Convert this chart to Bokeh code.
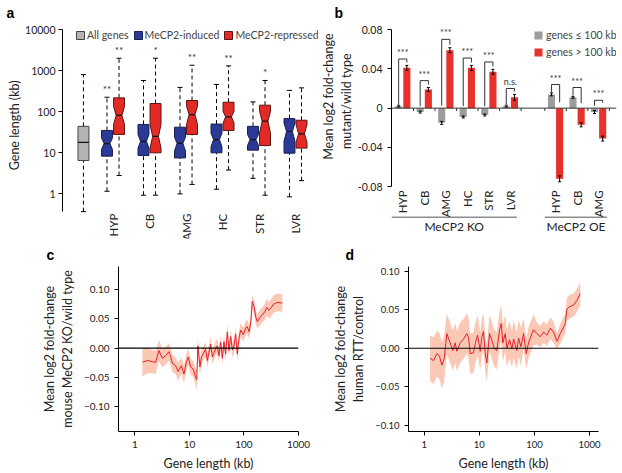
import numpy as np
from math import pi
from bokeh.plotting import figure
from bokeh.layouts import column, row
from bokeh.models import Range1d, FixedTicker, Legend, LegendItem, Span, Title
from bokeh.core.properties import value
from bokeh.embed import file_html
from bokeh.resources import INLINE

# ---------------- data ----------------
# Panel a: gene length (kb) box statistics
regions_a = ["HYP", "CB", "AMG", "HC", "STR", "LVR"]
all_lo, all_q1, all_med, all_q3, all_hi = 0.37, 6.5, 18, 44, 800
induced_lo = [1.16, 0.93, 1.0, 1.3, 2.4, 0.85]
induced_q1 = [8.3, 8.6, 7.5, 10, 11.6, 9.8]
induced_med = [16.8, 19, 17, 21, 21, 33]
induced_q3 = [35, 49, 42, 50, 44, 68]
induced_hi = [225, 575, 390, 460, 173, 330]
induced_nlo = [12, 13, 11, 14, 15, 19]
induced_nhi = [23, 28, 24, 30, 28, 53]
repressed_lo = [2.8, 0.93, 1.7, 3.8, 0.93, 2.1]
repressed_q1 = [28, 10, 28, 35, 15, 13]
repressed_med = [81, 25, 85, 75, 59, 29]
repressed_q3 = [217, 158, 187, 170, 144, 62]
repressed_hi = [2000, 2000, 1350, 1300, 575, 380]
repressed_nlo = [49, 13, 49, 53, 30, 18]
repressed_nhi = [135, 49, 135, 103, 103, 49]
stars_induced = ["**", "", "", "", "", ""]
stars_repressed = ["**", "*", "**", "**", "*", ""]

# Panel b: mean log2 fold-change
regions_ko = ["HYP", "CB", "AMG", "HC", "STR", "LVR"]
regions_oe = ["HYP", "CB", "AMG"]
short_ko = [0.002, -0.004, -0.015, -0.009, -0.007, 0.002]
long_ko = [0.041, 0.019, 0.059, 0.041, 0.037, 0.011]
short_oe = [0.014, 0.011, -0.004]
long_oe = [-0.072, -0.017, -0.031]
short_err_ko = [0.001, 0.001, 0.0015, 0.001, 0.001, 0.001]
long_err_ko = [0.0025, 0.002, 0.0025, 0.0025, 0.0025, 0.003]
short_err_oe = [0.0015, 0.001, 0.0015]
long_err_oe = [0.003, 0.002, 0.0025]
sig_ko = ["***", "***", "***", "***", "***", "n.s."]
sig_oe = ["***", "***", "***"]
bracket_ko = [0.050, 0.028, 0.070, 0.051, 0.047, 0.020]
bracket_oe = [0.024, 0.021, 0.008]

# Panel c: mouse MeCP2 KO vs gene length
kb_c = [1.37, 1.69, 2.08, 2.40, 2.76, 3.18, 3.66, 4.21, 4.52, 4.85, 5.58, 6.16, 7.10, 7.94, 8.77,
        9.53, 10.5, 11.8, 12.8, 13.6, 14.3, 15.6, 16.7, 18.5, 19.8, 21.3, 23.2, 24.5, 26.3, 28.2,
        30.3, 32.5, 34.8, 37.4, 40.1, 43.0, 46.1, 49.5, 53.1, 57.0, 61.2, 65.6, 70.4, 75.5, 81.1,
        86.9, 97.3, 107, 115, 124, 133, 142, 153, 164, 176, 194, 217, 240, 261, 284,
        309, 346, 398, 458, 506]
fc_c = [-0.024, -0.021, -0.023, -0.024, -0.004, -0.017, -0.013, -0.006, -0.014, -0.026,
        -0.030, -0.040, -0.030, -0.044, -0.024, -0.015, -0.032, -0.036, -0.048, -0.054,
        0.004, -0.032, -0.014, -0.007, -0.002, -0.021, -0.004, 0.007, -0.015, -0.008,
        0.000, 0.004, -0.013, 0.010, -0.017, 0.011, -0.010, 0.028, -0.004, 0.020,
        -0.003, 0.004, 0.024, -0.010, 0.017, 0.031, 0.023, 0.034, 0.037, 0.028,
        0.043, 0.080, 0.071, 0.054, 0.045, 0.052, 0.057, 0.062, 0.070, 0.065,
        0.068, 0.075, 0.078, 0.078, 0.077]
err_c = [0.024, 0.022, 0.020, 0.020, 0.018, 0.016, 0.015, 0.015, 0.014, 0.015,
         0.014, 0.015, 0.014, 0.015, 0.014, 0.014, 0.013, 0.014, 0.014, 0.018,
         0.013, 0.013, 0.012, 0.012, 0.012, 0.012, 0.012, 0.012, 0.012, 0.012,
         0.012, 0.012, 0.012, 0.012, 0.012, 0.012, 0.012, 0.012, 0.012, 0.012,
         0.012, 0.012, 0.012, 0.012, 0.012, 0.012, 0.012, 0.012, 0.012, 0.012,
         0.012, 0.012, 0.012, 0.012, 0.012, 0.013, 0.013, 0.014, 0.014, 0.014,
         0.015, 0.015, 0.015, 0.015, 0.015]

# Panel d: human RTT vs gene length
kb_d = [1.28, 1.48, 1.70, 1.89, 2.09, 2.30, 2.58, 2.76, 2.96, 3.31, 3.65, 3.92, 4.50, 5.17, 5.94,
        6.38, 6.84, 7.86, 8.43, 9.30, 10.4, 11.1, 11.9, 12.8, 13.7, 15.3, 16.9, 18.6, 20.8, 23.3,
        25.0, 26.7, 29.5, 31.6, 35.4, 39.0, 41.8, 48.0, 51.5, 56.8, 63.5, 71.0, 78.0, 86.0, 96.0,
        111, 127, 146, 168, 194, 222, 256, 294, 329, 362, 388, 434, 513, 590, 678]
fc_d = [-0.013, -0.016, -0.007, -0.010, -0.022, -0.014, 0.019, 0.013, 0.007, -0.003,
        0.007, -0.004, 0.007, 0.012, 0.019, 0.014, -0.007, -0.006, 0.006, 0.017,
        -0.004, 0.014, 0.022, -0.007, -0.019, 0.019, 0.010, 0.000, -0.003, 0.024,
        0.032, 0.007, 0.019, 0.000, 0.011, -0.001, 0.012, -0.003, 0.013, 0.002,
        0.019, -0.007, 0.007, 0.015, 0.024, 0.019, 0.015, 0.021, 0.017, 0.026,
        0.021, 0.009, 0.019, 0.026, 0.032, 0.051, 0.054, 0.056, 0.062, 0.071]
err_d = [0.030, 0.030, 0.030, 0.030, 0.030, 0.030, 0.026, 0.026, 0.026, 0.026,
         0.026, 0.026, 0.026, 0.026, 0.026, 0.026, 0.026, 0.026, 0.026, 0.026,
         0.024, 0.024, 0.024, 0.024, 0.024, 0.024, 0.024, 0.024, 0.024, 0.024,
         0.024, 0.024, 0.024, 0.024, 0.024, 0.024, 0.024, 0.024, 0.024, 0.024,
         0.020, 0.020, 0.020, 0.020, 0.020, 0.014, 0.014, 0.014, 0.014, 0.014,
         0.014, 0.010, 0.013, 0.013, 0.013, 0.015, 0.015, 0.015, 0.015, 0.015]

# ---------------- style ----------------
FONT = "Lato"
BLUE = "#2b3a97"
RED = "#e42a24"
GRAY = "#b4b4b4"
BAR_GRAY = "#9c9c9c"
BAR_RED = "#e8312a"
LINE_RED = "#e3202a"
BAND = "#fac8b5"
TXT = "#222222"


def style(p, fs="10.5px"):
    for ax in p.axis:
        ax.axis_line_color = "black"
        ax.major_tick_line_color = "black"
        ax.minor_tick_line_color = None
        ax.major_tick_out = 4
        ax.major_tick_in = 0
        ax.major_label_text_font = FONT
        ax.major_label_text_font_size = fs
        ax.major_label_text_color = TXT
        ax.axis_label_text_font = FONT
        ax.axis_label_text_font_style = "normal"
        ax.axis_label_text_font_size = "12.5px"
        ax.axis_label_text_color = TXT
    p.xgrid.grid_line_color = None
    p.ygrid.grid_line_color = None
    p.outline_line_color = None


def letter(p, offset, standoff=8):
    p.title.align = "left"
    p.title.offset = offset
    p.title.standoff = standoff
    p.title.text_font = "Liberation Sans"
    p.title.text_font_style = "bold"
    p.title.text_font_size = "14px"
    p.title.text_color = "black"


def side_title(p, txt, offs):
    p.add_layout(Title(text=txt, align="right", offset=offs, standoff=1, text_font=FONT,
                       text_font_style="normal", text_font_size="12.5px", text_color=TXT), "left")


# ---------------- panel a ----------------
pa = figure(width=318, height=240, y_axis_type="log", title="a",
            x_range=Range1d(-0.384, 6.63), y_range=Range1d(10 ** -1.085, 10 ** 4.219),
            x_axis_location=None, output_backend="svg", toolbar_location=None,
            min_border_left=62, min_border_right=0, min_border_top=20, min_border_bottom=2)
style(pa)
letter(pa, -56, 0)
pos_a = np.arange(1, len(regions_a) + 1, dtype=float)
x_all = 0.19
hw, nw, cw, off = 0.15, 0.08, 0.07, 0.165


def notch_poly(xc, q1, q3, med, nlo, nhi, w, n):
    return ([xc - w, xc + w, xc + w, xc + n, xc + w, xc + w, xc - w, xc - w, xc - n, xc - w],
            [q1, q1, nlo, med, nhi, q3, q3, nhi, med, nlo])


def box_series(p, xs, lo, q1, med, q3, hi, nlo, nhi, color, line, n):
    xs = np.asarray(xs, dtype=float)
    pxs, pys = [], []
    for i, xc in enumerate(xs):
        a, b = notch_poly(xc, q1[i], q3[i], med[i], nlo[i], nhi[i], hw, n)
        pxs.append(a)
        pys.append(b)
    p.segment(x0=xs, y0=q3, x1=xs, y1=hi, line_color="black", line_dash="4 3", line_width=1)
    p.segment(x0=xs, y0=lo, x1=xs, y1=q1, line_color="black", line_dash="4 3", line_width=1)
    p.segment(x0=xs - cw, y0=hi, x1=xs + cw, y1=hi, line_color="black", line_width=1)
    p.segment(x0=xs - cw, y0=lo, x1=xs + cw, y1=lo, line_color="black", line_width=1)
    r = p.patches(xs=pxs, ys=pys, fill_color=color, line_color=line, line_width=1)
    p.segment(x0=xs - n, y0=med, x1=xs + n, y1=med, line_color="#111111", line_width=1.2)
    return r


r_all = box_series(pa, [x_all], [all_lo], [all_q1], [all_med], [all_q3], [all_hi],
                   [all_med], [all_med], GRAY, "#444444", hw)
r_ind = box_series(pa, pos_a - off, induced_lo, induced_q1, induced_med, induced_q3, induced_hi,
                   induced_nlo, induced_nhi, BLUE, "#1a1f4f", nw)
r_rep = box_series(pa, pos_a + off, repressed_lo, repressed_q1, repressed_med, repressed_q3,
                   repressed_hi, repressed_nlo, repressed_nhi, RED, "#5a1512", nw)
pa.text(x=pos_a - off, y=induced_hi, text=stars_induced, y_offset=-2, text_align="center",
        text_baseline="bottom", text_font=value(FONT), text_font_size="10px", text_color="#333333")
pa.text(x=pos_a + off, y=repressed_hi, text=stars_repressed, y_offset=-2, text_align="center",
        text_baseline="bottom", text_font=value(FONT), text_font_size="10px", text_color="#333333")
# rotated region labels under the boxes
pa.text(x=pos_a, y=0.33, text=regions_a, angle=pi / 2, text_align="right", text_baseline="middle",
        text_font=value(FONT), text_font_size="11.5px", text_color=TXT)

pa.yaxis.ticker = FixedTicker(ticks=[1, 10, 100, 1000, 10000])
pa.yaxis.major_label_overrides = {1: "1", 10: "10", 100: "100", 1000: "1000", 10000: "10000"}
pa.yaxis.bounds = (10 ** -0.43, 10000)
pa.yaxis.major_label_standoff = 3
side_title(pa, "Gene length (kb)", 60)

leg_a = Legend(items=[LegendItem(label="All genes", renderers=[r_all]),
                      LegendItem(label="MeCP2-induced", renderers=[r_ind]),
                      LegendItem(label="MeCP2-repressed", renderers=[r_rep])],
               orientation="horizontal", location=(13, 197), glyph_width=10, glyph_height=10,
               label_standoff=2, spacing=4, padding=0, margin=0, label_height=10,
               border_line_alpha=0, background_fill_alpha=0,
               label_text_font=FONT, label_text_font_size="10.5px")
pa.add_layout(leg_a)

# ---------------- panel b ----------------
pb = figure(width=304, height=240, title="b",
            x_range=Range1d(-0.523, 9.932), y_range=Range1d(-0.1327, 0.0892),
            x_axis_location=None, output_backend="svg", toolbar_location=None,
            min_border_left=68, min_border_right=6, min_border_top=20, min_border_bottom=2)
style(pb)
letter(pb, -57, 0)
ko_pos = np.arange(len(regions_ko), dtype=float)
oe_pos = np.arange(len(regions_oe), dtype=float) + 7.1
bo, bwid, ecap = 0.19, 0.33, 0.07

pos_all = np.concatenate([ko_pos, oe_pos])
short_all = np.array(short_ko + short_oe)
long_all = np.array(long_ko + long_oe)
serr_all = np.array(short_err_ko + short_err_oe)
lerr_all = np.array(long_err_ko + long_err_oe)
brk_all = np.array(bracket_ko + bracket_oe)
sig_all = sig_ko + sig_oe

pb.add_layout(Span(location=0, dimension="width", line_color="#333333", line_width=1))
bounds = np.concatenate([ko_pos + 0.5, oe_pos - 0.5, [oe_pos[-1] + 0.5]])
pb.segment(x0=bounds, y0=0, x1=bounds, y1=-0.003, line_color="#333333", line_width=1)

r_short = pb.vbar(x=pos_all - bo, top=short_all, bottom=0, width=bwid, fill_color=BAR_GRAY, line_color=None)
r_long = pb.vbar(x=pos_all + bo, top=long_all, bottom=0, width=bwid, fill_color=BAR_RED, line_color=None)
for xs, v, e in [(pos_all - bo, short_all, serr_all), (pos_all + bo, long_all, lerr_all)]:
    pb.segment(x0=xs, y0=v - e, x1=xs, y1=v + e, line_color="black", line_width=1)
    pb.segment(x0=xs - ecap, y0=v + e, x1=xs + ecap, y1=v + e, line_color="black", line_width=1)
    pb.segment(x0=xs - ecap, y0=v - e, x1=xs + ecap, y1=v - e, line_color="black", line_width=1)

left_base = np.maximum(short_all, 0) + serr_all + 0.001
right_base = np.maximum(long_all, 0) + lerr_all + 0.003
pb.segment(x0=pos_all - bo, y0=left_base, x1=pos_all - bo, y1=brk_all, line_color="#333333", line_width=1)
pb.segment(x0=pos_all + bo, y0=right_base, x1=pos_all + bo, y1=brk_all, line_color="#333333", line_width=1)
pb.segment(x0=pos_all - bo, y0=brk_all, x1=pos_all + bo, y1=brk_all, line_color="#333333", line_width=1)
pb.text(x=pos_all, y=brk_all, text=sig_all, y_offset=-1, text_align="center", text_baseline="bottom",
        text_font=value(FONT), text_font_size="9px", text_color="#333333")

pb.yaxis.ticker = FixedTicker(ticks=[-0.08, -0.04, 0, 0.04, 0.08])
pb.yaxis.major_label_overrides = {-0.08: "-0.08", -0.04: "-0.04", 0: "0", 0.04: "0.04", 0.08: "0.08"}
pb.yaxis.bounds = (-0.08, 0.08)

pb.text(x=pos_all, y=-0.0838, text=regions_ko + regions_oe, angle=pi / 2, text_align="right",
        text_baseline="middle", text_font=value(FONT), text_font_size="11.5px", text_color=TXT)
grp_x0 = [ko_pos[0] - 0.52, oe_pos[0] - 0.5]
grp_x1 = [ko_pos[-1] + 0.3, oe_pos[-1] + 0.4]
pb.segment(x0=grp_x0, y0=-0.111, x1=grp_x1, y1=-0.111, line_color="#555555", line_width=1)
pb.text(x=[(a + b) / 2 for a, b in zip(grp_x0, grp_x1)], y=-0.1205, text=["MeCP2 KO", "MeCP2 OE"],
        text_align="center", text_baseline="middle", text_font=value(FONT), text_font_size="12px",
        text_color=TXT)

side_title(pb, "mutant/wild type", 33)
side_title(pb, "Mean log2 fold-change", 13)

leg_b = Legend(items=[LegendItem(label="genes \u2264 100 kb", renderers=[r_short]),
                      LegendItem(label="genes > 100 kb", renderers=[r_long])],
               orientation="vertical", location=(142, 180), glyph_width=10, glyph_height=10,
               label_standoff=3, spacing=5, padding=0, margin=0, label_height=12,
               border_line_alpha=0, background_fill_alpha=0,
               label_text_font=FONT, label_text_font_size="10.5px")
pb.add_layout(leg_b)


# ---------------- panels c, d ----------------
def curve_panel(width, letter_txt, xr, yr, borders, kb, fc, err, ylabel, fs):
    p = figure(width=width, height=233, title=letter_txt, x_axis_type="log", x_range=xr, y_range=yr,
               output_backend="svg", toolbar_location=None,
               min_border_left=borders[0], min_border_right=borders[1],
               min_border_top=borders[2], min_border_bottom=borders[3])
    style(p, fs)
    kb = np.asarray(kb)
    fc = np.asarray(fc)
    err = np.asarray(err)
    p.varea(x=kb, y1=fc - err, y2=fc + err, fill_color=BAND, fill_alpha=1.0)
    p.add_layout(Span(location=0, dimension="width", line_color="black", line_width=1.2))
    p.line(x=kb, y=fc, line_color=LINE_RED, line_width=1)
    p.xaxis.ticker = FixedTicker(ticks=[1, 10, 100, 1000])
    p.xaxis.major_label_overrides = {1: "1", 10: "10", 100: "100", 1000: "1000"}
    p.yaxis.ticker = FixedTicker(ticks=[-0.1, -0.05, 0, 0.05, 0.1])
    p.yaxis.major_label_overrides = {-0.1: "\u22120.10", -0.05: "\u22120.05", 0: "0.00",
                                     0.05: "0.05", 0.1: "0.10"}
    p.xaxis.axis_label = "Gene length (kb)"
    p.xaxis.axis_label_standoff = 5
    p.yaxis.axis_label = ylabel
    p.yaxis.axis_label_standoff = 6
    return p


pc = curve_panel(310, "c", Range1d(0.5, 1000), Range1d(-0.1424, 0.1397), (118, 12, 26, 41),
                 kb_c, fc_c, err_c, "Mean log2 fold-change\nmouse MeCP2 KO/wild type", "10px")
letter(pc, -72)
pd_ = curve_panel(312, "d", Range1d(0.52, 1450), Range1d(-0.1081, 0.1061), (98, 24, 26, 41),
                  kb_d, fc_d, err_d, "Mean log2 fold-change\nhuman RTT/control", "9.5px")
letter(pd_, -63)

layout = column(row(pa, pb), row(pc, pd_))
open("out.html", "w").write(file_html(layout, INLINE))
